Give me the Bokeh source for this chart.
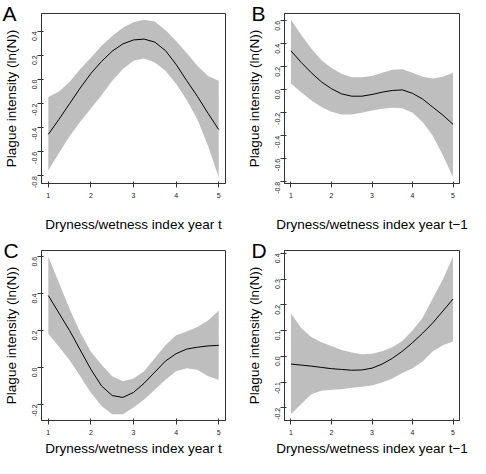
import math
from bokeh.plotting import figure
from bokeh.layouts import column, row
from bokeh.models import FixedTicker, NumeralTickFormatter, Range1d
from bokeh.embed import file_html
from bokeh.resources import INLINE

# ---- data ----
x_vals = [1.0, 1.25, 1.5, 1.75, 2.0, 2.25, 2.5, 2.75, 3.0, 3.25, 3.5, 3.75, 4.0, 4.25, 4.5, 4.75, 5.0]
x_ticks = [1, 2, 3, 4, 5]

a_fit = [-0.455, -0.33, -0.20, -0.07, 0.05, 0.15, 0.235, 0.295, 0.328, 0.335, 0.31, 0.24, 0.125, -0.01, -0.14, -0.28, -0.415]
a_upper = [-0.145, -0.10, -0.02, 0.087, 0.18, 0.28, 0.36, 0.43, 0.475, 0.495, 0.48, 0.41, 0.32, 0.22, 0.115, 0.03, -0.01]
a_lower = [-0.755, -0.61, -0.47, -0.35, -0.24, -0.13, -0.01, 0.087, 0.155, 0.174, 0.14, 0.073, -0.035, -0.17, -0.33, -0.55, -0.81]
a_yticks = [-0.8, -0.6, -0.4, -0.2, 0.0, 0.2, 0.4]

b_fit = [0.34, 0.24, 0.15, 0.07, 0.01, -0.035, -0.055, -0.055, -0.04, -0.02, -0.005, 0.0, -0.03, -0.08, -0.15, -0.22, -0.30]
b_upper = [0.61, 0.48, 0.36, 0.26, 0.19, 0.14, 0.11, 0.11, 0.12, 0.15, 0.175, 0.18, 0.15, 0.115, 0.10, 0.115, 0.15]
b_lower = [0.055, -0.02, -0.09, -0.15, -0.19, -0.215, -0.215, -0.20, -0.18, -0.165, -0.155, -0.16, -0.20, -0.28, -0.40, -0.57, -0.76]
b_yticks = [-0.8, -0.6, -0.4, -0.2, 0.0, 0.2, 0.4, 0.6]

c_fit = [0.39, 0.295, 0.20, 0.095, -0.01, -0.10, -0.152, -0.162, -0.135, -0.085, -0.025, 0.035, 0.075, 0.10, 0.11, 0.117, 0.12]
c_upper = [0.60, 0.46, 0.317, 0.19, 0.085, 0.015, -0.048, -0.075, -0.06, -0.02, 0.05, 0.12, 0.175, 0.195, 0.22, 0.255, 0.307]
c_lower = [0.183, 0.112, 0.04, -0.048, -0.137, -0.208, -0.253, -0.253, -0.217, -0.173, -0.12, -0.066, -0.02, -0.004, -0.012, -0.048, -0.066]
c_yticks = [-0.2, 0.0, 0.2, 0.4, 0.6]

d_fit = [-0.030, -0.034, -0.038, -0.043, -0.048, -0.051, -0.054, -0.053, -0.046, -0.03, -0.008, 0.02, 0.053, 0.09, 0.13, 0.176, 0.223]
d_upper = [0.167, 0.11, 0.075, 0.055, 0.04, 0.025, 0.015, 0.008, 0.01, 0.02, 0.035, 0.06, 0.10, 0.15, 0.225, 0.30, 0.387]
d_lower = [-0.225, -0.185, -0.147, -0.134, -0.13, -0.128, -0.122, -0.118, -0.113, -0.102, -0.086, -0.065, -0.046, -0.02, 0.02, 0.043, 0.058]
d_yticks = [-0.2, -0.1, 0.0, 0.1, 0.2, 0.3, 0.4]

xlabels = ["Dryness/wetness index year t", "Dryness/wetness index year t\u22121",
           "Dryness/wetness index year t", "Dryness/wetness index year t\u22121"]
ylabel = "Plague intensity (ln(N))"

FONT = "Liberation Sans"
BOX = "#333333"


def panel(letter, fit, lo, hi, yticks, xlabel, ml, mr, mt, mb, fw, fh, xstand, ldx):
    ymin, ymax = min(lo), max(hi)
    ypad = (ymax - ymin) * 0.04
    xmin, xmax = min(x_vals), max(x_vals)
    xpad = (xmax - xmin) * 0.04
    p = figure(width=ml + fw + mr, height=mt + fh + mb, output_backend="svg",
               toolbar_location=None,
               x_range=Range1d(xmin - xpad, xmax + xpad),
               y_range=Range1d(ymin - ypad, ymax + ypad),
               min_border_left=ml, min_border_right=mr,
               min_border_top=mt, min_border_bottom=mb)
    p.grid.visible = False
    p.outline_line_color = BOX
    p.outline_line_width = 1
    p.border_fill_color = "white"

    p.varea(x=x_vals, y1=lo, y2=hi, fill_color="#BEBEBE", fill_alpha=1.0)
    p.line(x_vals, fit, line_color="black", line_width=1)

    for ax in (p.xaxis[0], p.yaxis[0]):
        ax.axis_line_color = BOX
        ax.major_tick_line_color = BOX
        ax.minor_tick_line_color = None
        ax.major_tick_out = 4
        ax.major_tick_in = 2
        ax.major_label_text_font = FONT
        ax.major_label_text_font_size = "7px"
        ax.major_label_text_color = "#222222"
        ax.axis_label_text_font = FONT
        ax.axis_label_text_font_size = "13.5px"
        ax.axis_label_text_font_style = "normal"
        ax.axis_label_text_color = "black"
        ax.major_label_standoff = 3

    p.xaxis.ticker = FixedTicker(ticks=x_ticks)
    p.xaxis.axis_label = xlabel
    p.xaxis.major_label_standoff = 5
    p.xaxis.axis_label_standoff = xstand

    p.yaxis.ticker = FixedTicker(ticks=yticks)
    p.yaxis.formatter = NumeralTickFormatter(format="0.0")
    p.yaxis.major_label_orientation = math.pi / 2
    p.yaxis.axis_label = ylabel
    p.yaxis.axis_label_standoff = 8

    # panel letter as the figure title, pulled left and down next to the box corner
    p.title.text = letter
    p.title.align = "left"
    p.title.offset = ldx
    p.title.text_font = FONT
    p.title.text_font_size = "21px"
    p.title.text_font_style = "normal"
    p.title.text_color = "black"
    try:
        p.title.standoff = -23
    except Exception:
        p.title.standoff = 0
    return p


pA = panel("A", a_fit, a_lower, a_upper, a_yticks, xlabels[0], 40, 18, 13, 49, 185, 172, 16, -39)
pB = panel("B", b_fit, b_lower, b_upper, b_yticks, xlabels[1], 40, 11, 13, 49, 176, 172, 16, -33)
pC = panel("C", c_fit, c_lower, c_upper, c_yticks, xlabels[2], 40, 18, 16, 36, 185, 172, 3, -38)
pD = panel("D", d_fit, d_lower, d_upper, d_yticks, xlabels[3], 40, 11, 16, 36, 176, 172, 3, -33)

layout = column(row(pA, pB), row(pC, pD))
open("out.html", "w").write(file_html(layout, INLINE))
